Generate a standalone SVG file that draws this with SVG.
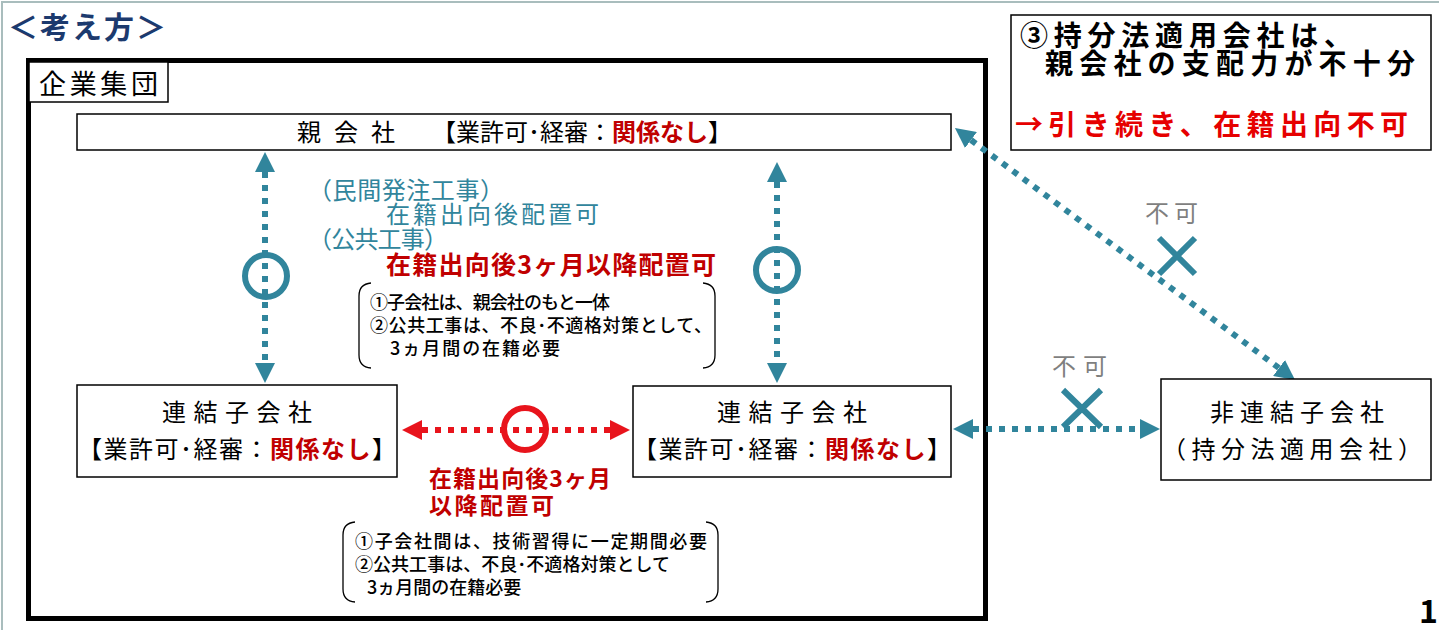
<svg xmlns="http://www.w3.org/2000/svg" width="1439" height="630" viewBox="0 0 1439 630">
<defs>
<style>
text{font-family:"Noto Sans CJK JP","Noto Sans",sans-serif;}
.box{fill:#fff;stroke:#000;stroke-width:1.5}
.frame{fill:none;stroke:#000;stroke-width:5}
.t{font-size:24px;fill:#000}
.red{fill:#c00000;font-weight:bold}
.teal{fill:#31859c}
.br{fill:none;stroke:#000;stroke-width:1.3}
.note{font-size:18px;fill:#000;font-weight:500}
.dt{stroke:#31859c;stroke-width:6;stroke-dasharray:6 7;fill:none}
.dr{stroke:#e8141c;stroke-width:6;stroke-dasharray:6 7;fill:none}
.ring{fill:none;stroke-width:6}
.x{stroke:#31859c;stroke-width:6}
.ng{font-size:24px;fill:#7f7f7f}
</style>
<marker id="mt" viewBox="0 0 20 20" refX="0" refY="10" markerWidth="20" markerHeight="20" markerUnits="userSpaceOnUse" orient="auto-start-reverse"><path d="M0,0 L20,10 L0,20z" fill="#31859c"/></marker>
<marker id="mr" viewBox="0 0 20 20" refX="0" refY="10" markerWidth="20" markerHeight="20" markerUnits="userSpaceOnUse" orient="auto-start-reverse"><path d="M0,0 L20,10 L0,20z" fill="#e8141c"/></marker>
</defs>
<rect width="1439" height="630" fill="#fff"/>
<path d="M2,630 V2 H1439" stroke="#a9bdbd" stroke-width="2" fill="none"/>

<g id="title">
<text x="8" y="38" font-size="30" font-weight="bold" fill="#1c3a6e" textLength="158">＜考え方＞</text>
</g>

<g id="group-frame">
<rect class="frame" x="28.5" y="60.5" width="957" height="558"/>
<rect class="box" x="29" y="62" width="139" height="40"/>
<text x="39" y="94" font-size="27" fill="#000" textLength="119">企業集団</text>
</g>

<g id="connectors">
<line class="dt" x1="265" y1="172" x2="265" y2="363" marker-start="url(#mt)" marker-end="url(#mt)"/>
<circle class="ring" cx="266" cy="276" r="21" stroke="#31859c"/>
<line class="dt" x1="777" y1="182" x2="777" y2="363" marker-start="url(#mt)" marker-end="url(#mt)"/>
<circle class="ring" cx="777" cy="270" r="21" stroke="#31859c"/>
<line class="dr" x1="422" y1="430" x2="610" y2="430" marker-start="url(#mr)" marker-end="url(#mr)"/>
<circle class="ring" cx="525" cy="429" r="21" stroke="#e8141c"/>
<line class="dt" x1="973" y1="429" x2="1140" y2="429" marker-start="url(#mt)" marker-end="url(#mt)"/>
<line class="dt" x1="971" y1="140" x2="1279" y2="368" marker-start="url(#mt)" marker-end="url(#mt)"/>
<path class="x" d="M1159,238 L1195,274 M1195,238 L1159,274"/>
<path class="x" d="M1063,390 L1101,427 M1101,390 L1063,427"/>
</g>

<g id="parent">
<rect class="box" x="77" y="114" width="874" height="36"/>
<text x="297" y="141" font-size="24" fill="#000" textLength="98">親 会 社</text>
<text x="432" y="141" font-size="24" fill="#000">【業許可･経審：<tspan class="red">関係なし</tspan>】</text>
</g>

<g id="labels-vertical">
<text x="308" y="199" font-size="24" class="teal" textLength="196">（民間発注工事）</text>
<text x="386" y="223" font-size="24" class="teal" textLength="213">在籍出向後配置可</text>
<text x="308" y="248" font-size="24" class="teal" textLength="140">（公共工事）</text>
<text x="386" y="274" font-size="25" fill="#c00000" font-weight="bold" textLength="330">在籍出向後3ヶ月以降配置可</text>
<path class="br" d="M371,283 Q359,284 359,296 V355 Q359,367 371,368"/>
<path class="br" d="M703,283 Q715,284 715,296 V355 Q715,367 703,368"/>
<text class="note" x="370" y="309" textLength="240">①子会社は、親会社のもと一体</text>
<text class="note" x="370" y="332" textLength="342">②公共工事は、不良･不適格対策として、</text>
<text class="note" x="390" y="355" textLength="170">3ヵ月間の在籍必要</text>
</g>

<g id="sub-left">
<rect class="box" x="77" y="385" width="320" height="92"/>
<text x="162" y="421" class="t" textLength="150">連結子会社</text>
<text x="237" y="458" class="t" text-anchor="middle" textLength="318">【業許可･経審：<tspan class="red">関係なし</tspan>】</text>
</g>

<g id="sub-right">
<rect class="box" x="633" y="386" width="318" height="91"/>
<text x="717" y="421" class="t" textLength="150">連結子会社</text>
<text x="792" y="458" class="t" text-anchor="middle" textLength="318">【業許可･経審：<tspan class="red">関係なし</tspan>】</text>
</g>

<g id="labels-horizontal">
<text x="429" y="487" font-size="23" fill="#c00000" font-weight="bold" textLength="182">在籍出向後3ヶ月</text>
<text x="429" y="514" font-size="23" fill="#c00000" font-weight="bold" textLength="125">以降配置可</text>
<path class="br" d="M355,522 Q343,523 343,535 V589 Q343,601 355,602"/>
<path class="br" d="M706,522 Q718,523 718,535 V589 Q718,601 706,602"/>
<text class="note" x="355" y="548" textLength="352">①子会社間は、技術習得に一定期間必要</text>
<text class="note" x="355" y="571" textLength="315">②公共工事は、不良･不適格対策として</text>
<text class="note" x="367" y="594">3ヵ月間の在籍必要</text>
</g>

<g id="non-consolidated">
<rect class="box" x="1161" y="379" width="270" height="101"/>
<text x="1210" y="421" class="t" textLength="174">非連結子会社</text>
<text x="1162" y="458" class="t" textLength="260">（持分法適用会社）</text>
</g>

<g id="ng-labels">
<text x="1145" y="222" class="ng" textLength="53">不可</text>
<text x="1052" y="375" class="ng" textLength="55">不可</text>
</g>

<g id="note-box">
<rect class="box" x="1011" y="15" width="420" height="135"/>
<text x="1020" y="46" font-size="28" font-weight="bold" fill="#000" textLength="332">③持分法適用会社は、</text>
<text x="1045" y="74" font-size="28" font-weight="bold" fill="#000" textLength="370">親会社の支配力が不十分</text>
<text x="1015" y="135" font-size="28" font-weight="bold" fill="#e60000" textLength="393">→引き続き、在籍出向不可</text>
</g>

<g id="page-number">
<text x="1419" y="623" font-family="Liberation Sans, Arial, sans-serif" font-size="32" font-weight="bold" fill="#000">1</text>
</g>
</svg>
